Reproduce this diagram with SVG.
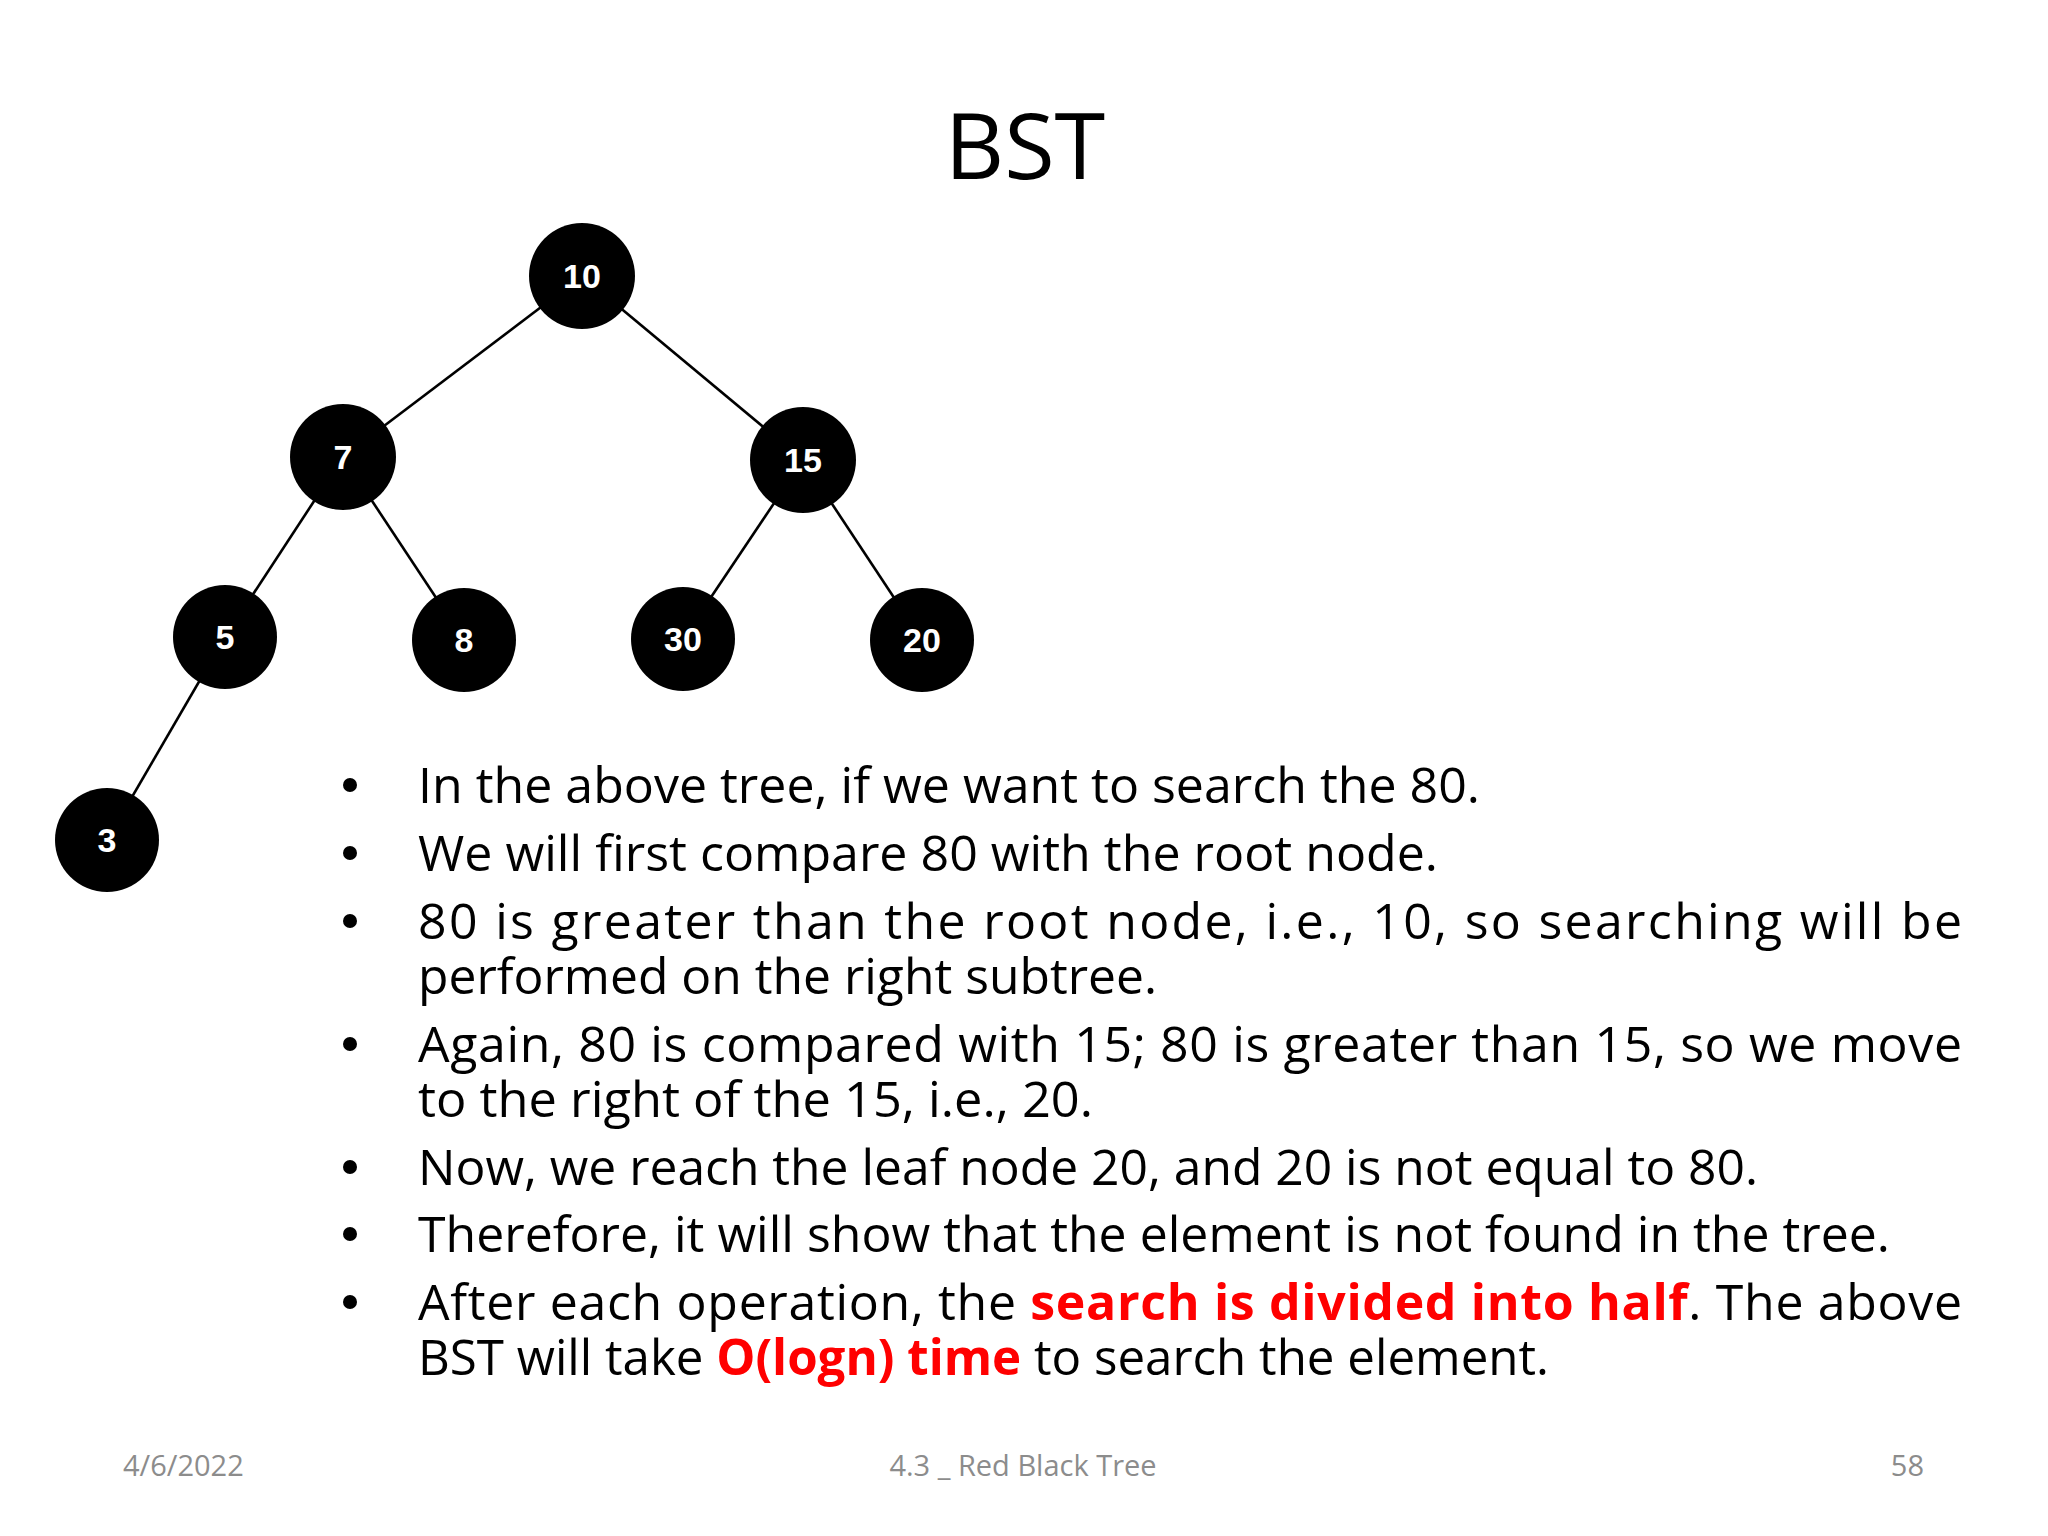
<svg xmlns="http://www.w3.org/2000/svg" width="2048" height="1536" viewBox="0 0 2048 1536">
<style>
.n{fill:#000}
.nt{fill:#fff;font-family:"Liberation Sans",Arial,sans-serif;font-weight:bold;font-size:34px;text-anchor:middle}
.b{font-family:"Open Sans","Noto Sans",sans-serif;font-size:50px;fill:#000}
.r{fill:#ff0000;font-weight:bold}
.f{font-family:"Open Sans","Noto Sans",sans-serif;font-size:29px;fill:#8c8c8c}
</style>
<rect width="2048" height="1536" fill="#fff"/>
<text x="1025" y="179" font-family="Open Sans, Noto Sans, sans-serif" font-size="92" text-anchor="middle">BST</text>
<g id="edges" stroke="#000" stroke-width="2.6">
<line x1="582" y1="276" x2="343" y2="457"/>
<line x1="582" y1="276" x2="803" y2="460"/>
<line x1="343" y1="457" x2="225" y2="637"/>
<line x1="343" y1="457" x2="464" y2="640"/>
<line x1="803" y1="460" x2="683" y2="639"/>
<line x1="803" y1="460" x2="922" y2="640"/>
<line x1="225" y1="637" x2="107" y2="840"/>
</g>
<g id="n10"><circle class="n" cx="582" cy="276" r="53"/><text class="nt" x="582" y="288">10</text></g>
<g id="n7"><circle class="n" cx="343" cy="457" r="53"/><text class="nt" x="343" y="469">7</text></g>
<g id="n15"><circle class="n" cx="803" cy="460" r="53"/><text class="nt" x="803" y="472">15</text></g>
<g id="n5"><circle class="n" cx="225" cy="637" r="52"/><text class="nt" x="225" y="649">5</text></g>
<g id="n8"><circle class="n" cx="464" cy="640" r="52"/><text class="nt" x="464" y="652">8</text></g>
<g id="n30"><circle class="n" cx="683" cy="639" r="52"/><text class="nt" x="683" y="651">30</text></g>
<g id="n20"><circle class="n" cx="922" cy="640" r="52"/><text class="nt" x="922" y="652">20</text></g>
<g id="n3"><circle class="n" cx="107" cy="840" r="52"/><text class="nt" x="107" y="852">3</text></g>
<g id="bullets">
<g fill="#000"><circle cx="350" cy="785" r="7"/><circle cx="350" cy="853" r="7"/><circle cx="350" cy="921" r="7"/><circle cx="350" cy="1044" r="7"/><circle cx="350" cy="1167" r="7"/><circle cx="350" cy="1234" r="7"/><circle cx="350" cy="1302" r="7"/></g>
<text class="b" x="418" y="803" textLength="1062" lengthAdjust="spacingAndGlyphs">In the above tree, if we want to search the 80.</text>
<text class="b" x="418" y="871" textLength="1020" lengthAdjust="spacingAndGlyphs">We will first compare 80 with the root node.</text>
<text class="b" x="418" y="939" textLength="1544" lengthAdjust="spacing">80 is greater than the root node, i.e., 10, so searching will be</text>
<text class="b" x="418" y="994" textLength="739" lengthAdjust="spacingAndGlyphs">performed on the right subtree.</text>
<text class="b" x="418" y="1062" textLength="1544" lengthAdjust="spacing">Again, 80 is compared with 15; 80 is greater than 15, so we move</text>
<text class="b" x="418" y="1117" textLength="675" lengthAdjust="spacingAndGlyphs">to the right of the 15, i.e., 20.</text>
<text class="b" x="418" y="1185" textLength="1340" lengthAdjust="spacingAndGlyphs">Now, we reach the leaf node 20, and 20 is not equal to 80.</text>
<text class="b" x="418" y="1252" textLength="1472" lengthAdjust="spacingAndGlyphs">Therefore, it will show that the element is not found in the tree.</text>
<text class="b" x="418" y="1320" textLength="1544" lengthAdjust="spacing">After each operation, the <tspan class="r">search is divided into half</tspan>. The above</text>
<text class="b" x="418" y="1375" textLength="1131" lengthAdjust="spacingAndGlyphs">BST will take <tspan class="r">O(logn) time</tspan> to search the element.</text>
</g>
<text class="f" x="123" y="1476">4/6/2022</text>
<text class="f" x="1023" y="1476" text-anchor="middle">4.3 _ Red Black Tree</text>
<text class="f" x="1924" y="1476" text-anchor="end">58</text>
</svg>
